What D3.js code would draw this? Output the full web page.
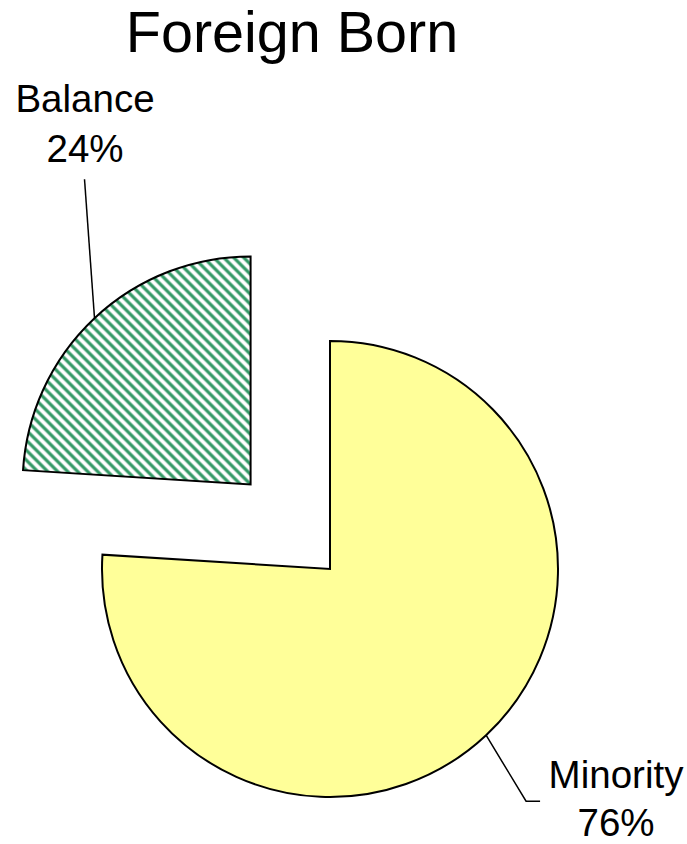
<!DOCTYPE html>
<html>
<head>
<meta charset="utf-8">
<script src="https://cdn.jsdelivr.net/npm/d3@7"></script>
<style>
  html, body { margin: 0; padding: 0; background: #fff; }
  svg { display: block; font-family: "Liberation Sans", Arial, sans-serif; }
</style>
</head>
<body>
<svg id="chart" width="687" height="844"></svg>
<script>
// ---- data ----
const categories = ["Minority", "Balance"];
const values = [76, 24];
const percentLabels = ["76%", "24%"];
const title = "Foreign Born";

// ---- layout ----
const W = 687, H = 844;
const cx = 330, cy = 569, R = 228;
const explode = [0, 116];
const fills = ["#FFFF99", "url(#stripes)"];
const labelSize = 38.5;

const svg = d3.select("#chart");

// pattern: wide downward diagonal, green on white
const P = 10;
const defs = svg.append("defs");
const pat = defs.append("pattern")
  .attr("id", "stripes")
  .attr("patternUnits", "userSpaceOnUse")
  .attr("width", P).attr("height", P);
pat.append("rect").attr("width", P).attr("height", P).attr("fill", "#fff");
pat.append("path")
  .attr("d", `M-2,-2 L${P+2},${P+2} M${-P/2-2},${P/2-2} L${P/2+2},${1.5*P+2} M${P/2-2},${-P/2-2} L${1.5*P+2},${P/2+2}`)
  .attr("stroke", "#339966")
  .attr("stroke-width", 3.2);

// title
svg.append("text")
  .attr("x", 292).attr("y", 52)
  .attr("text-anchor", "middle")
  .attr("font-size", 57.5)
  .text(title);

const pie = d3.pie().sort(null).value(d => d)
  .startAngle(0).endAngle(2 * Math.PI);
const arcs = pie(values);
const arc = d3.arc().innerRadius(0).outerRadius(R);

const g = svg.append("g").attr("transform", `translate(${cx},${cy})`);

arcs.forEach((a, i) => {
  const mid = (a.startAngle + a.endAngle) / 2;
  const dx = Math.sin(mid) * explode[i];
  const dy = -Math.cos(mid) * explode[i];
  g.append("path")
    .attr("transform", `translate(${dx},${dy})`)
    .attr("d", arc(a))
    .attr("fill", fills[i])
    .attr("stroke", "#000")
    .attr("stroke-width", 2)
    .attr("stroke-linejoin", "miter");
});

// leader lines and labels
function edgePoint(a, i) {
  const mid = (a.startAngle + a.endAngle) / 2;
  const r = R + explode[i];
  return [cx + Math.sin(mid) * r, cy - Math.cos(mid) * r];
}

// Minority
{
  const p = edgePoint(arcs[0], 0);
  const elbow = [p[0] + 40, p[1] + 66];
  const end = [elbow[0] + 14, elbow[1]];
  svg.append("path")
    .attr("d", d3.line()([p, elbow, end]))
    .attr("fill", "none").attr("stroke", "#000").attr("stroke-width", 1.5);
  const lx = 616;
  svg.append("text").attr("x", lx).attr("y", 788).attr("text-anchor", "middle")
    .attr("font-size", labelSize).text(categories[0]);
  svg.append("text").attr("x", lx).attr("y", 836).attr("text-anchor", "middle")
    .attr("font-size", labelSize).text(percentLabels[0]);
}
// Balance
{
  const p = edgePoint(arcs[1], 1);
  const end = [p[0] - 10, p[1] - 139];
  svg.append("path")
    .attr("d", d3.line()([p, end]))
    .attr("fill", "none").attr("stroke", "#000").attr("stroke-width", 1.5);
  const lx = 85;
  svg.append("text").attr("x", lx).attr("y", 112).attr("text-anchor", "middle")
    .attr("font-size", labelSize).text(categories[1]);
  svg.append("text").attr("x", lx).attr("y", 162).attr("text-anchor", "middle")
    .attr("font-size", labelSize).text(percentLabels[1]);
}
</script>
</body>
</html>
